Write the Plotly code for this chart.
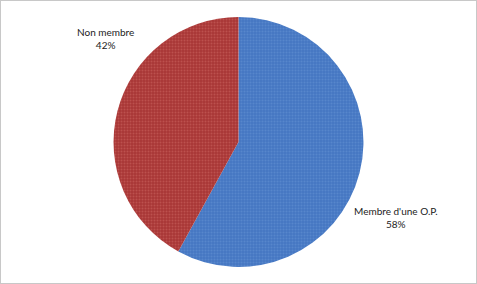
import plotly.graph_objects as go

labels = ["Membre d'une O.P.", "Non membre"]
values = [58, 42]
colors = ["#4577c2", "#a83636"]
pattern_fg = ["#6a95d6", "#cf6b63"]

# label anchor positions (paper coords) for the outside labels
label_pos = [(0.830, 0.235), (0.221, 0.863)]

fig = go.Figure(go.Pie(
    labels=labels,
    values=values,
    sort=False,
    direction="clockwise",
    rotation=0,
    textinfo="none",
    hoverinfo="label+percent",
    marker=dict(
        colors=colors,
        line=dict(color="#ffffff", width=0),
        pattern=dict(shape=".", fgcolor=pattern_fg, size=3, solidity=0.35,
                     fillmode="overlay"),
    ),
    domain=dict(x=[0, 1], y=[0.06, 0.94]),
    showlegend=False,
))

total = sum(values)
for lab, val, (px, py) in zip(labels, values, label_pos):
    fig.add_annotation(
        x=px, y=py, xref="paper", yref="paper",
        xanchor="center", yanchor="middle",
        text=f"{lab}<br>{round(val / total * 100)}%",
        showarrow=False, align="center",
        font=dict(family="Lato, Open Sans, sans-serif", size=10, color="#222222"),
    )

fig.add_shape(type="rect", xref="paper", yref="paper", x0=0, y0=0, x1=1, y1=1,
              line=dict(color="#c8c8c8", width=2))

fig.update_layout(
    width=477, height=284,
    margin=dict(l=0, r=0, t=0, b=0),
    paper_bgcolor="white", plot_bgcolor="white",
)

fig.write_html("out.html")
